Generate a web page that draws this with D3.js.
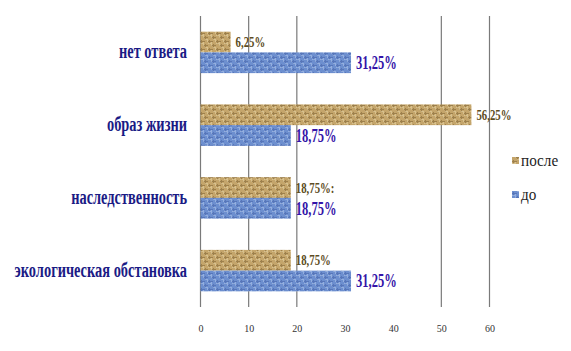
<!DOCTYPE html>
<html><head><meta charset="utf-8">
<script src="https://cdn.jsdelivr.net/npm/d3@7"></script>
<style>body{margin:0;background:#fff;}svg{display:block;}</style>
</head><body>
<svg id="chart" width="571" height="351"></svg>
<script>
const categories = ["нет ответа", "образ жизни", "наследственность", "экологическая обстановка"];
const seriesNames = ["после", "до"];
const afterValues = [6.25, 56.25, 18.75, 18.75];
const beforeValues = [31.25, 18.75, 18.75, 31.25];
const afterLabels = ["6,25%", "56,25%", "18,75%:", "18,75%"];
const beforeLabels = ["31,25%", "18,75%", "18,75%", "31,25%"];
const tickValues = [0, 10, 20, 30, 40, 50, 60];
const gridValues = [0, 10, 20, 50, 60];

const SERIF = "'Times New Roman', 'Liberation Serif', 'DejaVu Serif', serif";
const svg = d3.select("#chart");
const defs = svg.append("defs");

function makePattern(id, base, dark, light) {
  const p = defs.append("pattern").attr("id", id).attr("patternUnits", "userSpaceOnUse")
    .attr("width", 8).attr("height", 8);
  p.append("rect").attr("width", 8).attr("height", 8).attr("fill", base);
  p.append("path").attr("d", "M0,1.5H5M3,5.5H8M1.5,0V4M5.5,4V8").attr("stroke", dark).attr("stroke-width", 1).attr("opacity", 0.55);
  p.append("path").attr("d", "M0,3.5H3M5,7.5H8M3.5,2V6M7.5,0V2").attr("stroke", light).attr("stroke-width", 1).attr("opacity", 0.6);
}
makePattern("tan", "#c4a56b", "#7d6232", "#e6d3a4");
makePattern("blue", "#6d8fcf", "#4462a8", "#aec4ea");

const x = d3.scaleLinear().domain([0, 60]).range([200.5, 489.5]);
const y = d3.scaleBand().domain(categories).range([16, 307]).paddingInner(0.43).paddingOuter(0.215);

svg.append("g").selectAll("line").data(gridValues).join("line")
  .attr("x1", d => x(d)).attr("x2", d => x(d)).attr("y1", 16).attr("y2", 307)
  .attr("stroke", "#7a7a7a").attr("stroke-width", 1.2);

const axis = d3.axisBottom(x).tickValues(tickValues).tickSize(0).tickPadding(0).tickFormat(d3.format("d"));
const ax = svg.append("g").attr("transform", "translate(0,325)").call(axis);
ax.select(".domain").remove();
ax.attr("font-family", SERIF).attr("font-size", 10);
ax.selectAll("text").attr("fill", "#333");

const half = y.bandwidth() / 2;
const gA = svg.append("g");
gA.selectAll("rect.after").data(categories).join("rect").attr("class", "after")
  .attr("x", x(0)).attr("y", d => y(d)).attr("height", half)
  .attr("width", (d, i) => x(afterValues[i]) - x(0)).attr("fill", "url(#tan)");
gA.selectAll("rect.before").data(categories).join("rect").attr("class", "before")
  .attr("x", x(0)).attr("y", d => y(d) + half).attr("height", half)
  .attr("width", (d, i) => x(beforeValues[i]) - x(0)).attr("fill", "url(#blue)");

function condensedText(sel, sx) {
  sel.each(function(){
    const t = d3.select(this);
    const xx = +t.attr("data-x"), yy = +t.attr("data-y");
    t.attr("transform", `translate(${xx},${yy}) scale(${sx},1)`);
  });
}
svg.append("g").selectAll("text").data(categories).join("text")
  .attr("data-x", (d, i) => x(afterValues[i]) + 5).attr("data-y", d => y(d) + half / 2 + 5)
  .text((d, i) => afterLabels[i])
  .attr("font-family", SERIF).attr("font-weight", "bold").attr("font-size", 15)
  .attr("fill", "#5c4c22").call(condensedText, 0.72);
svg.append("g").selectAll("text").data(categories).join("text")
  .attr("data-x", (d, i) => x(beforeValues[i]) + 5).attr("data-y", d => y(d) + half * 1.5 + 6.5)
  .text((d, i) => beforeLabels[i])
  .attr("font-family", SERIF).attr("font-weight", "bold").attr("font-size", 19)
  .attr("fill", "#3414a8").call(condensedText, 0.66);

svg.append("g").selectAll("text").data(categories).join("text")
  .attr("data-x", 187).attr("data-y", d => y(d) + y.bandwidth() / 2 + 6)
  .attr("text-anchor", "end")
  .text(d => d)
  .attr("font-family", SERIF).attr("font-weight", "bold").attr("font-size", 20)
  .attr("fill", "#1b1b85").call(condensedText, 0.72);

const legendY = [160.5, 194.5];
const lg = svg.append("g");
lg.selectAll("rect").data(seriesNames).join("rect")
  .attr("x", 512).attr("y", (d, i) => legendY[i] - 3.5).attr("width", 7).attr("height", 7)
  .attr("fill", (d, i) => i === 0 ? "url(#tan)" : "url(#blue)");
lg.selectAll("text").data(seriesNames).join("text")
  .attr("data-x", 521).attr("data-y", (d, i) => legendY[i] + 5)
  .text(d => d)
  .attr("font-family", SERIF).attr("font-size", 16).attr("fill", "#222")
  .call(condensedText, 0.95);
</script>
</body></html>
